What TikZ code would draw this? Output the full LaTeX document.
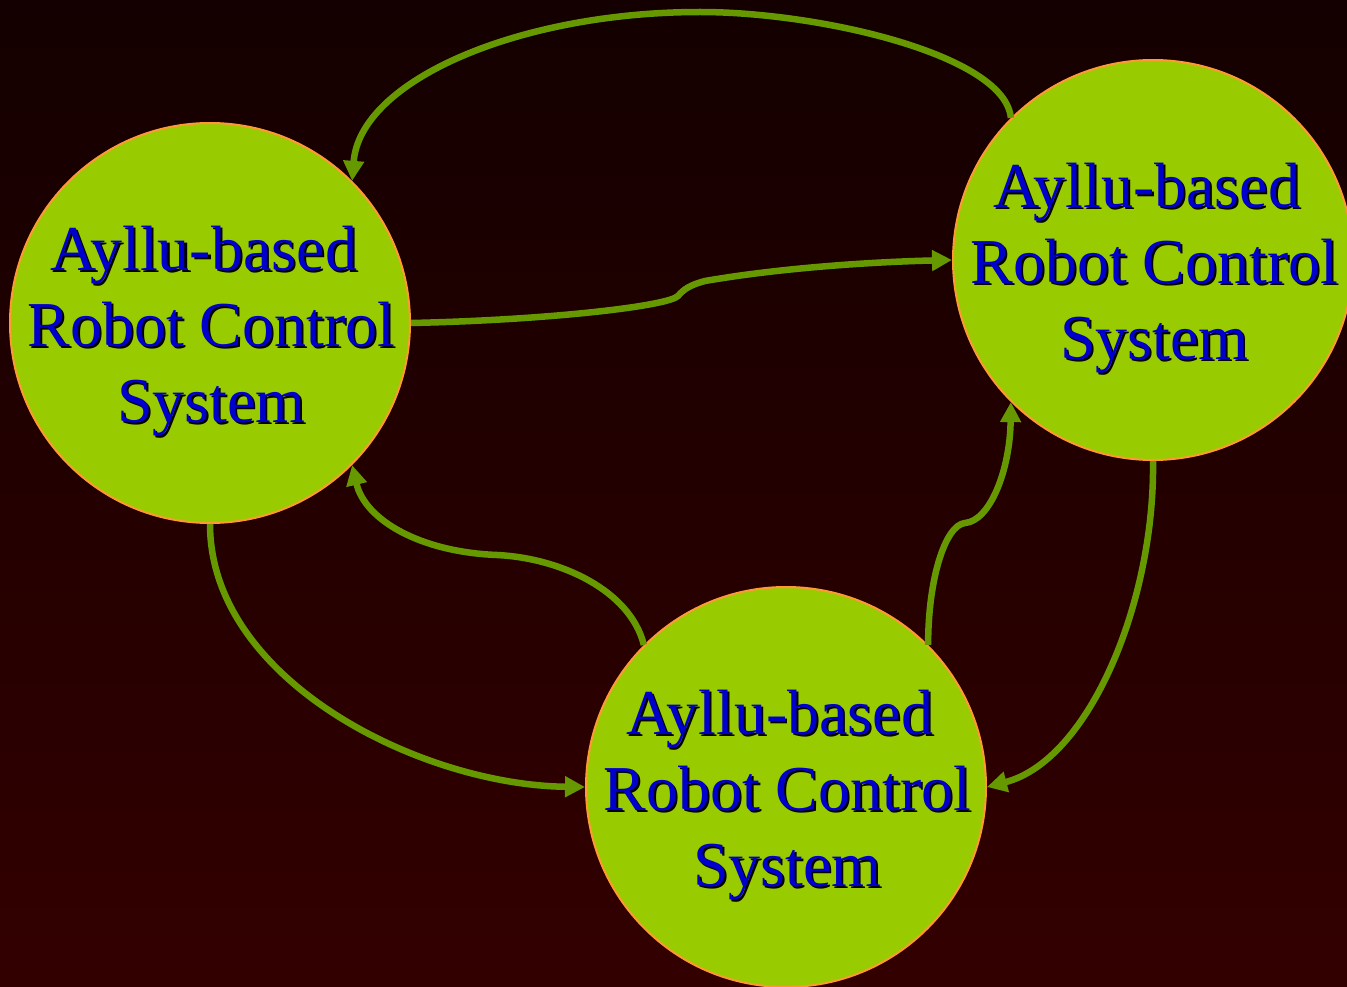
\documentclass[tikz,border=0pt]{standalone}
\usepackage{fontspec}
\setmainfont{Liberation Serif}
\usetikzlibrary{arrows.meta}
\definecolor{bgtop}{HTML}{140000}
\definecolor{bgbot}{HTML}{330000}
\definecolor{bubblefill}{HTML}{99CC00}
\definecolor{bubbleedge}{HTML}{FF9933}
\definecolor{linkgreen}{HTML}{669900}
\definecolor{txtblue}{HTML}{0000CC}
\newcommand\bubblelines{Ayllu-based\kern16pt\\Robot Control\\System}
\begin{document}
\begin{tikzpicture}[x=1pt,y=-1pt,
  bubble/.style={circle, draw=bubbleedge, line width=2pt, fill=bubblefill, minimum size=400pt, inner sep=0pt},
  bubbletext/.style={align=center, font=\fontsize{64}{76}\selectfont, text=txtblue, inner sep=0pt},
  shadowtext/.style={bubbletext, text=black},
  link/.style={draw=linkgreen, line width=6.5pt, -{Triangle[length=20pt,width=20pt]}}
]
\useasboundingbox (0,0) rectangle (1347,987);
\shade[top color=bgtop, bottom color=bgbot] (0,0) rectangle (1347,987);

\node[bubble] (L) at (210,323) {};
\node[bubble] (R) at (1153,260) {};
\node[bubble] (B) at (786,787) {};

\node[shadowtext] (Ls) at ([shift={(3.5,10.5)}]L) {\bubblelines};
\node[bubbletext] (Lt) at ([shift={(1.5,8.5)}]L) {\bubblelines};
\node[shadowtext] (Rs) at ([shift={(3.5,10.5)}]R) {\bubblelines};
\node[bubbletext] (Rt) at ([shift={(1.5,8.5)}]R) {\bubblelines};
\node[shadowtext] (Bs) at ([shift={(3.5,10.5)}]B) {\bubblelines};
\node[bubbletext] (Bt) at ([shift={(1.5,8.5)}]B) {\bubblelines};

\draw[link] (R.135) .. controls (1005,55) and (820,12) .. (700,12) .. controls (520,12) and (360,80) .. (L.45);
\draw[link] (L.0) .. controls (550,320) and (668,306) .. (678,296) .. controls (684,289) and (690,285) .. (705,281) .. controls (780,268) and (870,262) .. (R.180);
\draw[link] (B.135) .. controls (630,590) and (560,558) .. (497,555) .. controls (420,552) and (365,520) .. (L.-45);
\draw[link] (B.45) .. controls (928,580) and (945,525) .. (965,523) .. controls (990,521) and (1010,470) .. (R.-135);
\draw[link] (R.-90) .. controls (1155,600) and (1090,760) .. (B.0);
\draw[link] (L.-90) .. controls (210,680) and (420,785) .. (B.180);
\end{tikzpicture}
\end{document}
